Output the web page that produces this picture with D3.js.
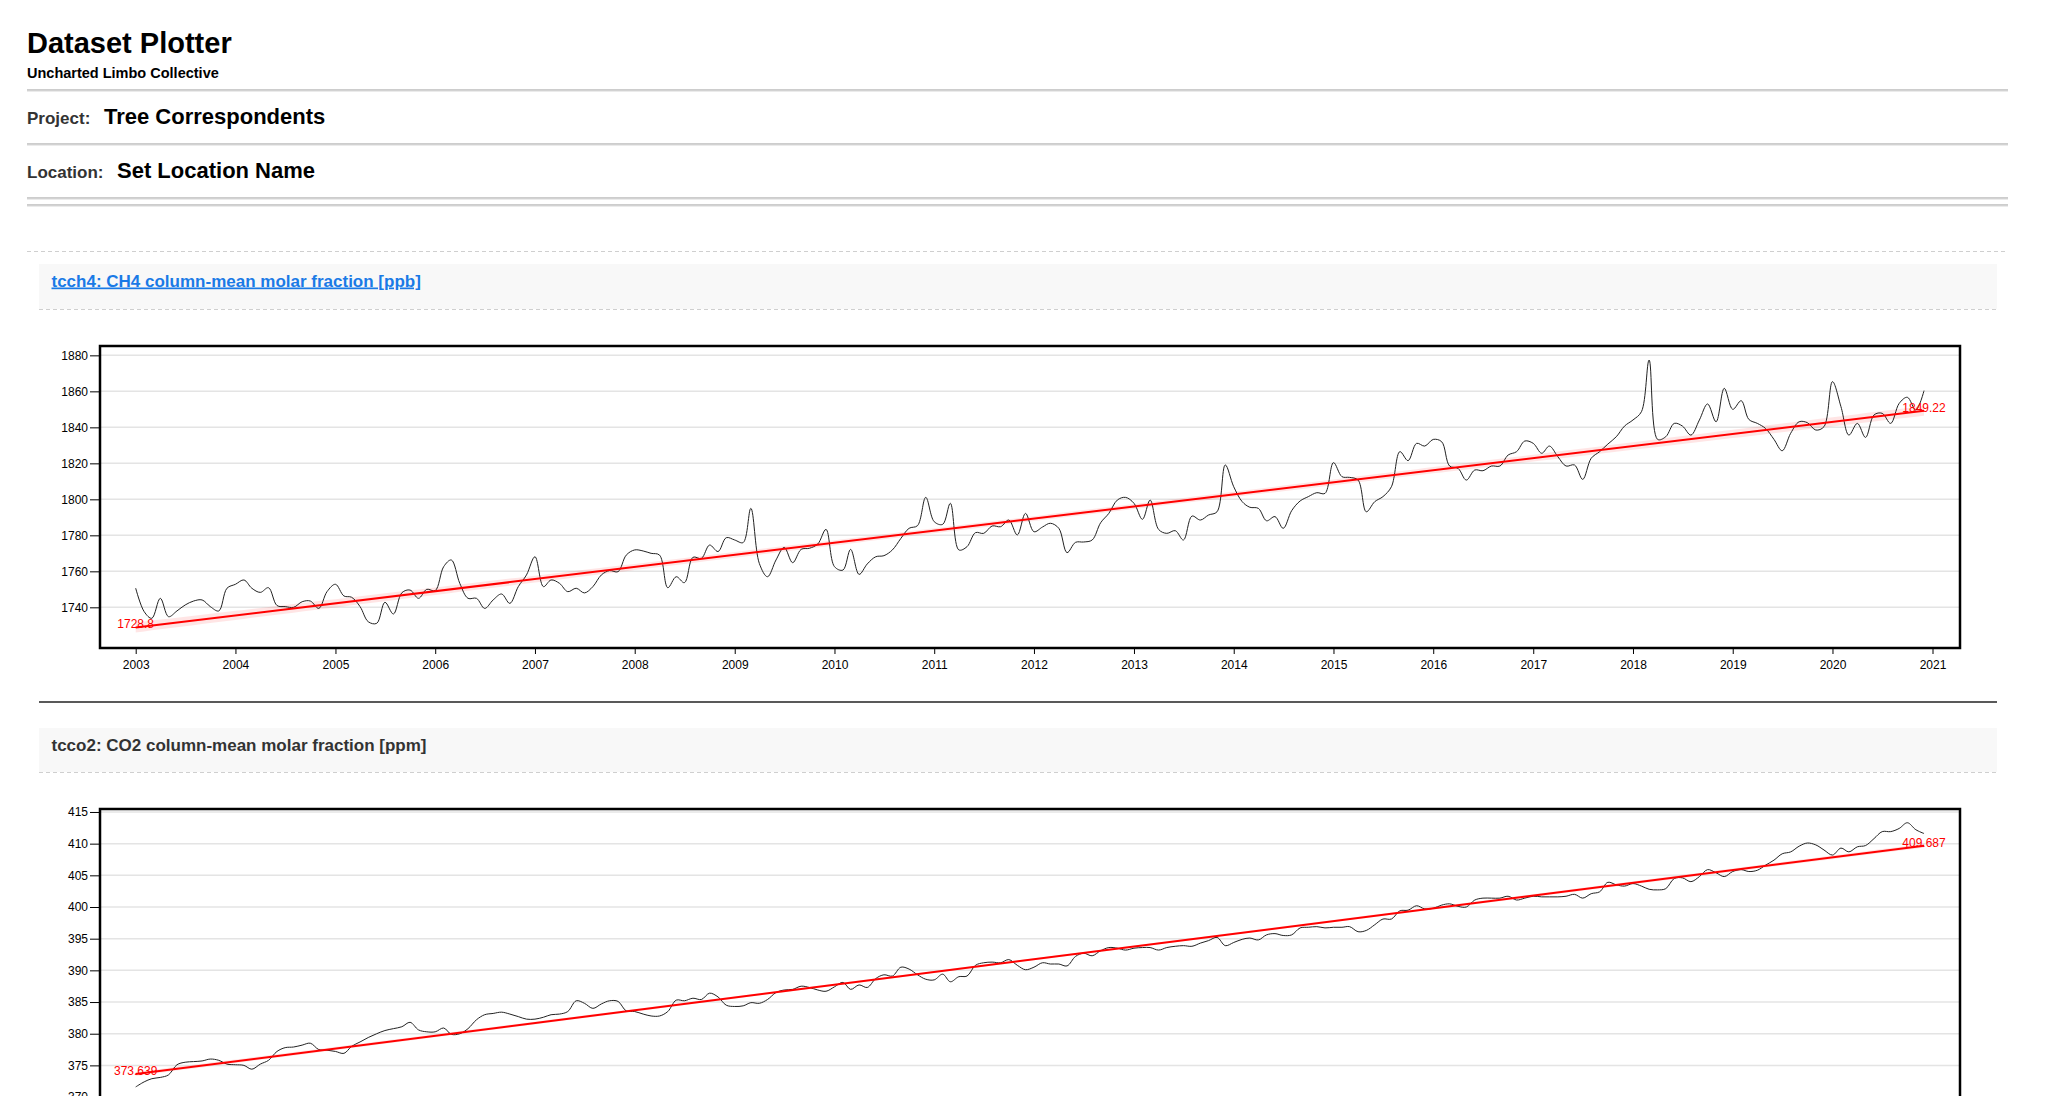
<!DOCTYPE html>
<html><head><meta charset="utf-8">
<script src="https://cdn.jsdelivr.net/npm/d3@7"></script>
<style>
html,body{margin:0;padding:0;background:#fff;overflow:hidden;}
svg{display:block;font-family:"Liberation Sans",Arial,Helvetica,sans-serif;}
</style></head><body>
<svg id="page" width="2048" height="1096"></svg>
<script>
// ---------------- data ----------------
const pageTitle = "Dataset Plotter";
const pageSubtitle = "Uncharted Limbo Collective";
const projectName = "Tree Correspondents";
const locationName = "Set Location Name";
const ch4Title = "tcch4: CH4 column-mean molar fraction [ppb]";
const co2Title = "tcco2: CO2 column-mean molar fraction [ppm]";
const firstMonth = "2003-01-01";
const yearTicks = [2003,2004,2005,2006,2007,2008,2009,2010,2011,2012,2013,2014,2015,2016,2017,2018,2019,2020,2021];
const ch4Ticks = [1740,1760,1780,1800,1820,1840,1860,1880];
const co2Ticks = [370,375,380,385,390,395,400,405,410,415];
const ch4Domain = [1717.4, 1885.2];
const co2Domain = [367.8, 415.47];
const ch4Trend = [1728.8, 1849.22];
const co2Trend = [373.639, 409.687];
const ch4Values = [
1750.6,1737.6,1733.9,1745,1734.8,1738,1741.3,1743.5,1744.1,1740.4,1738,1750.6,
1752.8,1755.2,1750.6,1748.3,1750.9,1741,1740.4,1740,1743.1,1743.5,1739.4,1748.7,
1752.8,1746.3,1745.6,1740.4,1732,1731.1,1742.8,1736.3,1748.1,1749.6,1745,1750,
1749.3,1762.6,1766.3,1753.3,1745,1745,1739.4,1744.1,1747.4,1742.2,1751.5,1758,
1768.1,1751.5,1755.2,1753.3,1748.7,1750.6,1748,1751.5,1758,1760.4,1759.8,1769,
1771.9,1771.3,1770,1769,1750.9,1757,1753.7,1767.8,1767.2,1774.6,1771,1778.7,
1777.4,1776,1795,1764.4,1757,1766.3,1773.3,1764.8,1772.2,1772.8,1775.2,1783.3,
1762.6,1760.7,1772.2,1758.3,1764.1,1768.1,1768.7,1771.9,1778.3,1783.9,1785.4,1801.1,
1787.6,1786.1,1797.8,1771.9,1773.7,1781.5,1781.1,1785.2,1784.8,1788.5,1780.2,1792.2,
1782,1784.6,1786.7,1783.9,1770.4,1776.1,1776.3,1777.4,1787,1792.2,1799.6,1801.1,
1797.8,1788.9,1799.6,1783.3,1781.1,1782.6,1777.4,1790.7,1788.5,1791.3,1793.1,1819.1,
1807,1798.7,1795.6,1795,1788.1,1790.4,1783.9,1793.7,1799.1,1801.5,1803.7,1803.3,
1820.4,1812.6,1812.2,1810.7,1793.1,1798.7,1801.5,1807,1826.5,1821.5,1831.1,1829.6,
1833.3,1832,1818.5,1817.2,1810.7,1816.3,1815.9,1818.5,1818.5,1824.6,1826.5,1832.4,
1831.1,1825.6,1829.6,1823.7,1818.5,1819.1,1811.1,1822.8,1826.5,1830.7,1834.8,1840.7,
1844.1,1848.7,1877.4,1833.3,1834.8,1842.2,1840.7,1835.7,1844.1,1853,1843.1,1861.7,
1850,1854.8,1844.4,1842.2,1839.4,1833.3,1827,1836.7,1843.1,1842.6,1838.5,1840.4,
1865.4,1851.5,1835.7,1842.2,1834.4,1846.9,1847.8,1842.2,1853.3,1856.7,1849.6,1860.4
];
const co2Values = [
371.6,372.4,372.9,373.1,373.5,375.1,375.5,375.6,375.7,376,375.8,375.2,
375.1,375,374.4,375.2,375.8,377.2,377.8,377.9,378.2,378.5,377.5,377.4,
377.2,376.9,378,378.7,379.4,380,380.5,380.8,381.1,381.8,380.6,380.3,
380.3,380.9,379.9,380,380.8,382.2,383,383.2,383.4,383.1,382.7,382.3,
382.3,382.6,383,383.1,383.5,385.2,384.8,384,384.7,385.2,385.1,383.6,
383.5,383.1,382.8,382.8,383.5,385.3,385.2,385.6,385.4,386.4,385.8,384.5,
384.3,384.4,384.9,384.8,385.4,386.5,386.9,387,387.5,387.3,386.9,386.7,
387.4,388.1,387,387.7,387.3,388.7,389.3,389.1,390.5,390.2,389.3,388.6,
388.5,389.4,388.2,389,389.1,390.8,391.2,391.3,391.2,391.7,390.8,390.1,
390.5,391.2,391,391,390.7,392.2,392.7,392.3,393.1,393.6,393.5,393.2,
393.5,393.6,393.6,393.2,393.6,393.8,393.9,393.8,394.3,394.7,395.2,393.9,
394.4,394.9,395.1,394.8,395.6,395.8,395.5,395.6,396.7,396.8,396.9,396.7,
396.8,396.8,396.9,396.1,396.3,397.2,398.1,398.1,399.4,399.5,400.2,399.7,
399.8,400.3,400.5,400.1,400,401.1,401.4,401.4,401.4,401.7,401.1,401.4,
401.7,401.6,401.6,401.6,401.7,402,401.4,402.1,402.4,403.9,403.5,403.3,
403.7,403.3,402.8,402.7,402.9,404.5,404.6,404,404.8,405.9,405.4,404.8,
405.6,405.9,405.6,405.8,406.6,407.4,408.4,408.7,409.6,410.1,409.8,409,
408.2,409.3,408.7,409.5,409.7,410.8,411.9,411.9,412.4,413.3,412.2,411.6
];

// ---------------- page ----------------
const PAGE_H = 1096;
const svg = d3.select("#page");
const LEFT = 27, RIGHT = 2008, INL = 39, INR = 1997;

svg.append("text").attr("x", LEFT).attr("y", 53).attr("font-size", 29).attr("font-weight", "bold").attr("fill", "#000").text(pageTitle);
svg.append("text").attr("x", LEFT).attr("y", 78).attr("font-size", 14.5).attr("font-weight", "bold").attr("fill", "#000").text(pageSubtitle);

function hr(y) {
  svg.append("line").attr("x1", LEFT).attr("x2", RIGHT).attr("y1", y).attr("y2", y).attr("stroke", "#9a9a9a").attr("stroke-width", 1);
  svg.append("line").attr("x1", LEFT).attr("x2", RIGHT).attr("y1", y + 1).attr("y2", y + 1).attr("stroke", "#d8d8d8").attr("stroke-width", 1);
}
hr(90);
svg.append("text").attr("x", LEFT).attr("y", 124).attr("font-size", 17).attr("font-weight", "bold").attr("fill", "#333").text("Project:");
svg.append("text").attr("x", 104).attr("y", 124).attr("font-size", 22).attr("font-weight", "bold").attr("fill", "#000").text(projectName);
hr(144);
svg.append("text").attr("x", LEFT).attr("y", 178).attr("font-size", 17).attr("font-weight", "bold").attr("fill", "#333").text("Location:");
svg.append("text").attr("x", 117).attr("y", 178).attr("font-size", 22).attr("font-weight", "bold").attr("fill", "#000").text(locationName);
hr(198);
hr(205);

svg.append("line").attr("x1", LEFT).attr("x2", RIGHT).attr("y1", 251.5).attr("y2", 251.5).attr("stroke", "#cfcfcf").attr("stroke-dasharray", "4,3");

function header(y0, y1, title, isLink) {
  svg.append("rect").attr("x", INL).attr("y", y0).attr("width", INR - INL).attr("height", y1 - y0).attr("fill", "#f8f8f8");
  svg.append("line").attr("x1", INL).attr("x2", INR).attr("y1", y1 + 0.5).attr("y2", y1 + 0.5).attr("stroke", "#cfcfcf").attr("stroke-dasharray", "4,3");
  const t = svg.append("text").attr("x", 51.5).attr("y", y0 + 22.5).attr("font-size", 17).attr("font-weight", "bold")
    .attr("fill", isLink ? "#1a7ae6" : "#333").text(title);
  if (isLink) t.attr("text-decoration", "underline");
}
header(264, 309, ch4Title, true);
svg.append("line").attr("x1", INL).attr("x2", INR).attr("y1", 702).attr("y2", 702).attr("stroke", "#222").attr("stroke-width", 1.5);
header(728, 772, co2Title, false);

// ---------------- charts ----------------
const parse = d3.timeParse("%Y-%m-%d");
const t0 = parse(firstMonth);
const x = d3.scaleTime().domain([new Date(yearTicks[0], 0, 1), new Date(yearTicks[yearTicks.length - 1], 0, 1)]).range([135.7, 1932.5]);
const FX0 = 100, FX1 = 1960;

function drawChart(top, values, domain, ticks, trend, fmt) {
  const H = 302;
  const y = d3.scaleLinear().domain(domain).range([top + H, top]);
  const g = svg.append("g");
  const data = values.map((v, i) => ({ d: d3.timeMonth.offset(t0, i), v }));

  // grid
  g.append("g").selectAll("line").data(ticks).join("line")
    .attr("x1", FX0).attr("x2", FX1).attr("y1", d => y(d)).attr("y2", d => y(d))
    .attr("stroke", "#e4e4e4").attr("stroke-width", 1.5);

  // trend band (95% confidence of the trend, from residuals)
  const n = values.length;
  const trendAt = i => trend[0] + (trend[1] - trend[0]) * i / (n - 1);
  const res = values.map((v, i) => v - trendAt(i));
  const se = Math.sqrt(d3.sum(res, r => r * r) / (n - 2));
  const mean = (n - 1) / 2;
  const sxx = d3.sum(values, (v, i) => (i - mean) * (i - mean));
  const half = i => 1.96 * se * Math.sqrt(1 / n + (i - mean) * (i - mean) / sxx);
  const band = d3.area().x((d, i) => x(d.d)).y0((d, i) => y(trendAt(i) - half(i))).y1((d, i) => y(trendAt(i) + half(i)));
  g.append("path").datum(data).attr("d", band).attr("fill", "rgba(255,0,0,0.1)");

  // series line
  const line = d3.line().x(d => x(d.d)).y(d => y(d.v)).curve(d3.curveCatmullRom.alpha(0.5));
  g.append("path").datum(data).attr("d", line).attr("fill", "none").attr("stroke", "#222").attr("stroke-width", 1);

  // trend line
  const tl = [{ d: data[0].d, v: trend[0] }, { d: data[n - 1].d, v: trend[1] }];
  g.append("path").datum(tl).attr("d", d3.line().x(d => x(d.d)).y(d => y(d.v)))
    .attr("stroke", "#ff0000").attr("stroke-width", 2).attr("fill", "none");
  g.selectAll("text.tl").data(tl).join("text").attr("class", "tl")
    .attr("x", d => x(d.d)).attr("y", d => y(d.v) + 1).attr("text-anchor", "middle")
    .attr("font-size", 12).attr("fill", "#ff0000").text(d => fmt(d.v));

  // axes (the x axis is only drawn when it falls inside the page)
  if (top + H + 24 < PAGE_H) {
    const xa = g.append("g").attr("transform", `translate(0,${top + H})`)
      .call(d3.axisBottom(x).tickValues(yearTicks.map(yy => new Date(yy, 0, 1))).tickFormat(d3.timeFormat("%Y")).tickSize(6).tickPadding(6));
    xa.select(".domain").remove();
    xa.selectAll("text").attr("font-size", 12).attr("font-family", null).attr("fill", "#000");
    xa.selectAll("line").attr("stroke", "#000");
  }
  const ya = g.append("g").attr("transform", `translate(${FX0},0)`)
    .call(d3.axisLeft(y).tickValues(ticks).tickFormat(d3.format("d")).tickSize(10).tickPadding(2));
  ya.select(".domain").remove();
  ya.selectAll("text").attr("font-size", 12).attr("font-family", null).attr("fill", "#000");
  ya.selectAll("line").attr("stroke", "#000");

  // frame
  g.append("rect").attr("x", FX0).attr("y", top).attr("width", FX1 - FX0).attr("height", H)
    .attr("fill", "none").attr("stroke", "#000").attr("stroke-width", 2.5);
}
drawChart(346, ch4Values, ch4Domain, ch4Ticks, ch4Trend, v => String(v));
drawChart(809, co2Values, co2Domain, co2Ticks, co2Trend, v => String(v));
</script>
</body></html>
